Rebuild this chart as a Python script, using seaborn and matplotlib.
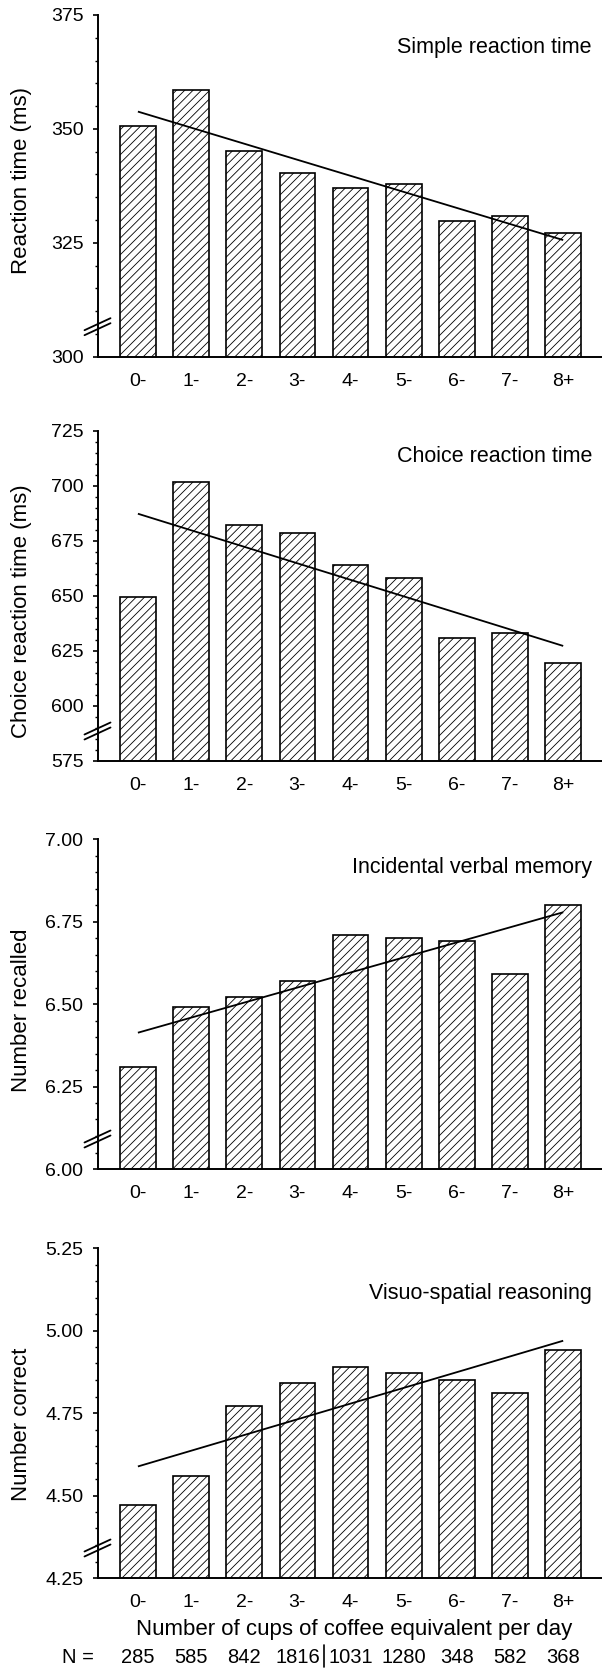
import numpy as np
import pandas as pd
import matplotlib
matplotlib.use("Agg")
import matplotlib.pyplot as plt
import seaborn as sns
from matplotlib.ticker import AutoMinorLocator
from matplotlib.lines import Line2D
import matplotlib.transforms as mtransforms

# ---------------- data ----------------
categories = ["0-", "1-", "2-", "3-", "4-", "5-", "6-", "7-", "8+"]

simple_rt = [350.6, 358.5, 345.1, 340.3, 337.1, 337.9, 329.7, 330.8, 327.1]
choice_rt = [649.5, 702.0, 682.1, 678.8, 664.0, 658.0, 630.7, 633.3, 619.6]
verbal_memory = [6.31, 6.49, 6.52, 6.57, 6.71, 6.70, 6.69, 6.59, 6.80]
visuo_spatial = [4.47, 4.56, 4.77, 4.84, 4.89, 4.87, 4.85, 4.81, 4.94]

# fitted trend line: value at first and last category
simple_trend = [353.8, 325.6]
choice_trend = [687.4, 627.3]
verbal_trend = [6.413, 6.778]
visuo_trend = [4.588, 4.969]

panel_titles = ["Simple reaction time", "Choice reaction time",
                "Incidental verbal memory", "Visuo-spatial reasoning"]
y_labels = ["Reaction time (ms)", "Choice reaction time (ms)",
            "Number recalled", "Number correct"]

simple_ticks = [300, 325, 350, 375]
choice_ticks = [575, 600, 625, 650, 675, 700, 725]
verbal_ticks = [6.00, 6.25, 6.50, 6.75, 7.00]
visuo_ticks = [4.25, 4.50, 4.75, 5.00, 5.25]

simple_tick_labels = ["300", "325", "350", "375"]
choice_tick_labels = ["575", "600", "625", "650", "675", "700", "725"]
verbal_tick_labels = ["6.00", "6.25", "6.50", "6.75", "7.00"]
visuo_tick_labels = ["4.25", "4.50", "4.75", "5.00", "5.25"]

n_counts = [285, 585, 842, 1816, 1031, 1280, 348, 582, 368]
x_label = "Number of cups of coffee equivalent per day"

values_list = [simple_rt, choice_rt, verbal_memory, visuo_spatial]
trend_list = [simple_trend, choice_trend, verbal_trend, visuo_trend]
ticks_list = [simple_ticks, choice_ticks, verbal_ticks, visuo_ticks]
ticklabels_list = [simple_tick_labels, choice_tick_labels,
                   verbal_tick_labels, visuo_tick_labels]

# ---------------- style ----------------
sns.set_style("ticks")
plt.rcParams["font.family"] = ["Liberation Sans", "DejaVu Sans"]
plt.rcParams["hatch.linewidth"] = 0.6
plt.rcParams["hatch.color"] = "black"

W, H = 602, 1669
fig = plt.figure(figsize=(W / 100, H / 100), dpi=100)
fig.patch.set_facecolor("white")

left_px = 97.5
panels_px = [(15, 356.7), (431, 761), (839, 1169), (1248, 1578)]
title_off_px = [32, 25, 28, 45]
ylabel_y = [0.517, 0.455, 0.48, 0.467]

axes = []
for i in range(4):
    top, bot = panels_px[i]
    h_px = bot - top
    w_px = W - left_px
    ax = fig.add_axes([left_px / W, 1 - bot / H, 1 - left_px / W, h_px / H])
    axes.append(ax)
    df = pd.DataFrame({"cups": categories, "value": values_list[i]})
    sns.barplot(data=df, x="cups", y="value", color="white",
                edgecolor="black", linewidth=1.2, width=0.67,
                saturation=1, ax=ax)
    for p in ax.patches:
        p.set_hatch("////")
        p.set_facecolor("white")
        p.set_edgecolor("black")

    # trend line between first and last category
    ax.plot([0, len(categories) - 1], trend_list[i], color="black",
            lw=1.3, solid_capstyle="butt", zorder=5)

    ticks = ticks_list[i]
    ax.set_ylim(ticks[0], ticks[-1])
    ax.set_yticks(ticks)
    ax.set_yticklabels(ticklabels_list[i])
    ax.yaxis.set_minor_locator(AutoMinorLocator(5))
    ax.set_xlim(-0.76, 8.73)

    for s in ["top", "right"]:
        ax.spines[s].set_visible(False)
    for s in ["left", "bottom"]:
        ax.spines[s].set_linewidth(1.4)
        ax.spines[s].set_color("black")

    ax.tick_params(axis="x", length=0, pad=11.5, labelsize=14, colors="black")
    ax.tick_params(axis="y", which="major", length=3.6, width=1.2, pad=6.5,
                   labelsize=14, direction="out", colors="black")
    ax.tick_params(axis="y", which="minor", length=2, width=1.0,
                   direction="out", colors="black")

    ax.set_xlabel("")
    ax.set_ylabel(y_labels[i], fontsize=16, color="black")
    ax.yaxis.set_label_coords(-0.13, ylabel_y[i])

    ax.text(0.98, 1 - title_off_px[i] / h_px, panel_titles[i],
            transform=ax.transAxes, ha="right", va="center",
            fontsize=15.5, color="black")

    # axis break marks
    yc = 30 / h_px
    dy = 6 / h_px
    sep = 5 / h_px
    dx = 13 / w_px
    for off in (-sep / 2, sep / 2):
        ax.add_line(Line2D([-dx, dx], [yc + off - dy, yc + off + dy],
                           transform=ax.transAxes, color="black", lw=1.3,
                           clip_on=False, zorder=6))

# bottom annotations
ax = axes[-1]
h_px = panels_px[-1][1] - panels_px[-1][0]
ax.set_xlabel(x_label, fontsize=16, color="black")
ax.xaxis.set_label_coords(0.508, -41 / h_px)

blend = mtransforms.blended_transform_factory(ax.transData, fig.transFigure)
n_y = 1 - 1657 / H
for j, n in enumerate(n_counts):
    ax.text(j, n_y, str(n), transform=blend, ha="center", va="center",
            fontsize=14.5, color="black")
fig.text(78 / W, n_y, "N =", ha="center", va="center", fontsize=14.5,
         color="black")
fig.add_artist(Line2D([3.5, 3.5], [1 - 1667 / H, 1 - 1645 / H],
                      transform=blend, color="black", lw=1.2))

fig.savefig("out.png", dpi=100, facecolor="white")
